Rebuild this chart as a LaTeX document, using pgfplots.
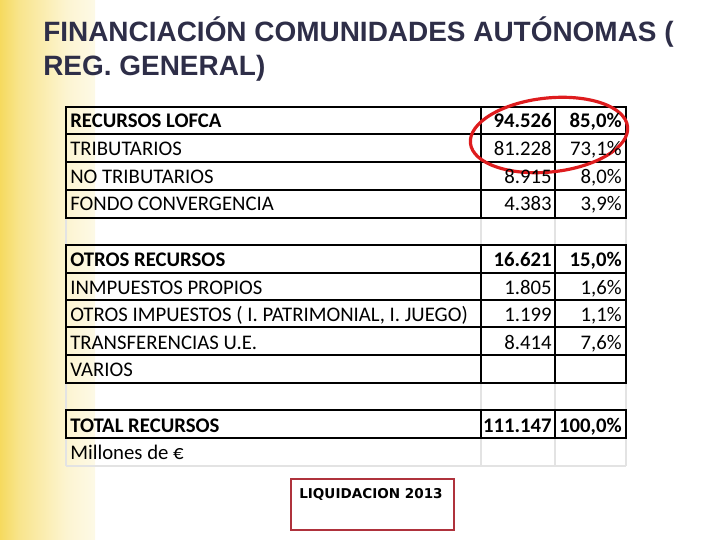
\documentclass[border=0pt]{standalone}
\usepackage{pgfplots}
\pgfplotsset{compat=1.18}
\usepackage{fontspec}
\setmainfont{Carlito}
\newfontfamily\titlefont{Liberation Sans}
\newfontfamily\boxfont{DejaVu Sans}
\definecolor{ttl}{RGB}{46,46,72}
\definecolor{ylw}{RGB}{240,196,0}
\definecolor{ell}{RGB}{222,28,30}
\definecolor{boxc}{RGB}{175,50,60}
\pgfdeclarehorizontalshading{ygrad}{100bp}{color(0bp)=(ylw); color(10bp)=(ylw!90!white); color(35bp)=(ylw!45!white); color(60bp)=(ylw!18!white); color(80bp)=(ylw!7!white); color(100bp)=(white)}
\begin{document}
\begin{tikzpicture}
\begin{axis}[scale only axis, width=7.2in, height=5.4in,
  xmin=0, xmax=720, ymin=0, ymax=540, y dir=reverse,
  axis lines=none, ticks=none, clip=false,
  every node near coord/.append style={inner sep=0pt, text=black}]
% page frame (fixes the bounding box)
\path (axis cs:0,0) rectangle (axis cs:720,540);
% background band
\shade[shading=ygrad] (axis cs:0,0) rectangle (axis cs:95,540);
% title
\addplot[draw=none, mark=none, point meta=explicit symbolic, nodes near coords,
  nodes near coords style={anchor=base west, text=ttl, font=\titlefont\bfseries\fontsize{20.2pt}{22pt}\selectfont}]
  coordinates {(43,42) [FINANCIACIÓN COMUNIDADES AUTÓNOMAS (] (43,76) [REG. GENERAL)]};
% faint sheet grid
\draw[gray!22, line width=0.8pt]
  (axis cs:66,218) -- (axis cs:66,245) (axis cs:481,218) -- (axis cs:481,245)
  (axis cs:555,218) -- (axis cs:555,245) (axis cs:626,218) -- (axis cs:626,245)
  (axis cs:66,383) -- (axis cs:66,410) (axis cs:481,383) -- (axis cs:481,410)
  (axis cs:555,383) -- (axis cs:555,410) (axis cs:626,383) -- (axis cs:626,410)
  (axis cs:66,438) -- (axis cs:66,466) (axis cs:481,438) -- (axis cs:481,466)
  (axis cs:555,438) -- (axis cs:555,466) (axis cs:626,438) -- (axis cs:626,466)
  (axis cs:66,466) -- (axis cs:626,466);
% table borders
\draw[black, line width=1.1pt]
  (axis cs:66,107) rectangle (axis cs:626,218)
  (axis cs:66,134) -- (axis cs:626,134)
  (axis cs:66,162) -- (axis cs:626,162)
  (axis cs:66,190) -- (axis cs:626,190)
  (axis cs:66,245) rectangle (axis cs:626,383)
  (axis cs:66,273) -- (axis cs:626,273)
  (axis cs:66,300) -- (axis cs:626,300)
  (axis cs:66,327) -- (axis cs:626,327)
  (axis cs:66,355) -- (axis cs:626,355)
  (axis cs:66,410) rectangle (axis cs:626,438)
  (axis cs:481,107) -- (axis cs:481,218) (axis cs:555,107) -- (axis cs:555,218)
  (axis cs:481,245) -- (axis cs:481,383) (axis cs:555,245) -- (axis cs:555,383)
  (axis cs:481,410) -- (axis cs:481,438) (axis cs:555,410) -- (axis cs:555,438);
% row labels
\addplot[draw=none, mark=none, point meta=explicit symbolic, nodes near coords,
  nodes near coords style={anchor=base west, font=\fontsize{15pt}{16pt}\selectfont}]
  coordinates {
  (70,128) [\textbf{RECURSOS LOFCA}]
  (70,156) [TRIBUTARIOS]
  (70,184) [NO TRIBUTARIOS]
  (70,211) [FONDO CONVERGENCIA]
  (70,267) [\textbf{OTROS RECURSOS}]
  (70,294) [INMPUESTOS PROPIOS]
  (70,321) [OTROS IMPUESTOS ( I. PATRIMONIAL, I. JUEGO)]
  (70,349) [TRANSFERENCIAS U.E.]
  (70,376) [VARIOS]
  (70,432) [\textbf{TOTAL RECURSOS}]
  (70,459) [Millones de €]
  };
% amounts (millones de euros)
\addplot[draw=none, mark=none, point meta=explicit symbolic, nodes near coords,
  nodes near coords style={anchor=base east, font=\fontsize{15pt}{16pt}\selectfont}]
  coordinates {
  (552,128) [\textbf{94.526}]
  (552,156) [81.228]
  (552,184) [8.915]
  (552,211) [4.383]
  (552,267) [\textbf{16.621}]
  (552,294) [1.805]
  (552,321) [1.199]
  (552,349) [8.414]
  (552,432) [\textbf{111.147}]
  };
% shares
\addplot[draw=none, mark=none, point meta=explicit symbolic, nodes near coords,
  nodes near coords style={anchor=base east, font=\fontsize{15pt}{16pt}\selectfont}]
  coordinates {
  (622,128) [\textbf{85,0\%}]
  (622,156) [73,1\%]
  (622,184) [8,0\%]
  (622,211) [3,9\%]
  (622,267) [\textbf{15,0\%}]
  (622,294) [1,6\%]
  (622,321) [1,1\%]
  (622,349) [7,6\%]
  (622,432) [\textbf{100,0\%}]
  };
% red ellipse
\draw[ell, line width=2.3pt] (axis cs:549,135) ellipse [x radius=0.79in, y radius=0.37in, rotate=6];
% box
\draw[boxc, line width=0.8pt] (axis cs:291,479) rectangle (axis cs:454,530);
\addplot[draw=none, mark=none, point meta=explicit symbolic, nodes near coords,
  nodes near coords style={anchor=base west, font=\boxfont\bfseries\fontsize{9.8pt}{11pt}\selectfont}]
  coordinates {(299,498) [LIQUIDACION 2013]};
\end{axis}
\end{tikzpicture}
\end{document}
